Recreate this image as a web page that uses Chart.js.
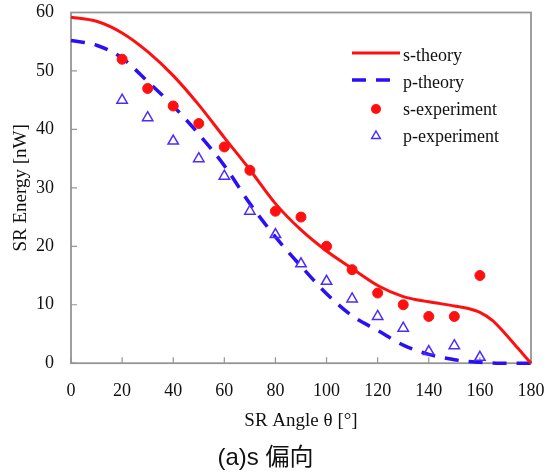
<!DOCTYPE html>
<html lang="ja">
<head>
    <meta charset="UTF-8">
    <title>SR Energy vs SR Angle</title>
    <script src="https://cdn.jsdelivr.net/npm/chart.js"></script>
    <style>
        body {
            margin: 0;
            background: #fff;
        }
        #wrap {
            width: 547px;
            height: 475px;
        }
    </style>
</head>
<body>
    <div id="wrap"><canvas id="chartCanvas" width="547" height="475"></canvas></div>

    <script>
        // valores
        const theoryAngles = [0, 10, 20, 30, 40, 50, 60, 70, 80, 90, 100, 110, 120, 130, 140, 150, 155, 160, 165, 170, 175, 180];
        const sTheory = [59.2, 58.5, 56.5, 53.3, 49.2, 44.2, 38.6, 33.1, 27.3, 22.8, 19.2, 16.2, 13.3, 11.4, 10.5, 9.8, 9.4, 8.7, 7.3, 5.0, 2.5, 0];
        const pTheory = [55.2, 54.4, 52.2, 48.2, 44.0, 39.2, 33.8, 27.3, 21.6, 16.6, 11.9, 8.1, 5.6, 3.1, 1.5, 0.6, 0.3, 0.15, 0.05, 0, 0, 0];

        const expAngles = [20, 30, 40, 50, 60, 70, 80, 90, 100, 110, 120, 130, 140, 150, 160];
        const sExperiment = [52, 47, 44, 41, 37, 33, 26, 25, 20, 16, 12, 10, 8, 8, 15];
        const pExperiment = [45, 42, 38, 35, 32, 26, 22, 17, 14, 11, 8, 6, 2, 3, 1];

        const seriesNames = ['s-theory', 'p-theory', 's-experiment', 'p-experiment'];
        const xTitle = 'SR Angle θ [°]';
        const yTitle = 'SR Energy [nW]';
        const caption = '(a)s 偏向';

        const RED = '#ff1010';
        const BLUE = '#2a10f5';
        const TRI = '#4a2cff';
        const SERIF = '"Liberation Serif", "DejaVu Serif", serif';

        function toPoints(xs, ys) {
            return xs.map((x, i) => ({ x: x, y: ys[i] }));
        }

        // moldura e marcas de escala para dentro
        const framePlugin = {
            id: 'frame',
            beforeDatasetsDraw(chart) {
                const ctx = chart.ctx;
                const a = chart.chartArea;
                const xs = chart.scales.x;
                const ys = chart.scales.y;
                ctx.save();
                ctx.strokeStyle = '#959595';
                ctx.lineWidth = 1.8;
                ctx.strokeRect(a.left, a.top, a.right - a.left, a.bottom - a.top);
                ctx.lineWidth = 1.2;
                ctx.beginPath();
                xs.ticks.forEach(t => {
                    const px = xs.getPixelForValue(t.value);
                    ctx.moveTo(px, a.bottom);
                    ctx.lineTo(px, a.bottom - 6);
                });
                ys.ticks.forEach(t => {
                    const py = ys.getPixelForValue(t.value);
                    ctx.moveTo(a.left, py);
                    ctx.lineTo(a.left + 6, py);
                });
                ctx.stroke();
                ctx.restore();
            }
        };

        // legenda dentro da área do gráfico
        const legendPlugin = {
            id: 'insideLegend',
            afterDraw(chart) {
                const ctx = chart.ctx;
                const ds = chart.data.datasets;
                const x0 = 352, x1 = 400, tx = 403;
                const rows = [56, 83, 110, 137];
                ctx.save();
                ctx.font = '18px ' + SERIF;
                ctx.fillStyle = '#111';
                ctx.textBaseline = 'middle';
                ctx.textAlign = 'left';

                // linhas
                [0, 1].forEach(i => {
                    ctx.beginPath();
                    ctx.strokeStyle = ds[i].borderColor;
                    ctx.lineWidth = ds[i].borderWidth;
                    ctx.setLineDash(ds[i].borderDash || []);
                    ctx.moveTo(x0, rows[i] - 3);
                    ctx.lineTo(x1, rows[i] - 3);
                    ctx.stroke();
                });
                ctx.setLineDash([]);

                // ponto cheio
                ctx.beginPath();
                ctx.fillStyle = ds[2].backgroundColor;
                ctx.arc(376, rows[2] - 1, 5, 0, Math.PI * 2);
                ctx.fill();

                // triângulo
                const r = 5;
                const cy = rows[3] - 1;
                ctx.beginPath();
                ctx.strokeStyle = ds[3].borderColor;
                ctx.lineWidth = 1.5;
                ctx.moveTo(376, cy - r);
                ctx.lineTo(376 + r * 0.866, cy + r * 0.5);
                ctx.lineTo(376 - r * 0.866, cy + r * 0.5);
                ctx.closePath();
                ctx.stroke();

                ctx.fillStyle = '#111';
                seriesNames.forEach((name, i) => ctx.fillText(name, tx, rows[i]));
                ctx.restore();
            }
        };

        const ctx = document.getElementById('chartCanvas').getContext('2d');
        new Chart(ctx, {
            type: 'scatter',
            data: {
                datasets: [
                    {
                        label: seriesNames[0],
                        type: 'line',
                        data: toPoints(theoryAngles, sTheory),
                        borderColor: RED,
                        borderWidth: 3,
                        pointRadius: 0,
                        cubicInterpolationMode: 'monotone',
                        clip: 6,
                        order: 2
                    },
                    {
                        label: seriesNames[1],
                        type: 'line',
                        data: toPoints(theoryAngles, pTheory),
                        borderColor: BLUE,
                        borderWidth: 3.5,
                        borderDash: [14, 10],
                        pointRadius: 0,
                        cubicInterpolationMode: 'monotone',
                        clip: 6,
                        order: 3
                    },
                    {
                        label: seriesNames[2],
                        data: toPoints(expAngles, sExperiment),
                        backgroundColor: RED,
                        borderColor: RED,
                        pointRadius: 5,
                        pointHoverRadius: 5,
                        showLine: false,
                        order: 1
                    },
                    {
                        label: seriesNames[3],
                        data: toPoints(expAngles, pExperiment),
                        pointStyle: 'triangle',
                        backgroundColor: 'rgba(255,255,255,0)',
                        borderColor: TRI,
                        borderWidth: 1.5,
                        pointRadius: 6,
                        pointHoverRadius: 6,
                        showLine: false,
                        order: 0
                    }
                ]
            },
            options: {
                responsive: false,
                animation: false,
                events: [],
                layout: {
                    padding: { left: 0, right: 16, top: 12.5, bottom: 0 }
                },
                plugins: {
                    legend: { display: false },
                    tooltip: { enabled: false },
                    title: {
                        display: true,
                        position: 'bottom',
                        text: caption,
                        color: '#111',
                        font: { family: '"Liberation Sans", "Noto Sans CJK JP", sans-serif', size: 24, weight: 'normal' },
                        padding: { top: 3, bottom: 2 }
                    }
                },
                scales: {
                    x: {
                        type: 'linear',
                        min: 0,
                        max: 180,
                        ticks: {
                            stepSize: 20,
                            padding: 9,
                            color: '#111',
                            font: { family: SERIF, size: 18 }
                        },
                        grid: { display: false },
                        border: { display: false },
                        title: {
                            display: true,
                            text: xTitle,
                            color: '#111',
                            font: { family: SERIF, size: 19 },
                            padding: { top: 0, bottom: 9 }
                        },
                        afterFit(scale) {
                            scale.height = 78;
                            scale.paddingLeft = 0;
                            scale.paddingRight = 0;
                        }
                    },
                    y: {
                        min: 0,
                        max: 60,
                        ticks: {
                            stepSize: 10,
                            padding: 9,
                            color: '#111',
                            font: { family: SERIF, size: 18 }
                        },
                        grid: { display: false },
                        border: { display: false },
                        title: {
                            display: true,
                            text: yTitle,
                            color: '#111',
                            font: { family: SERIF, size: 19 },
                            padding: { top: 10, bottom: 0 }
                        },
                        afterFit(scale) {
                            scale.width = 71;
                            scale.paddingTop = 0;
                            scale.paddingBottom = 0;
                        }
                    }
                }
            },
            plugins: [framePlugin, legendPlugin]
        });
    </script>
</body>
</html>
